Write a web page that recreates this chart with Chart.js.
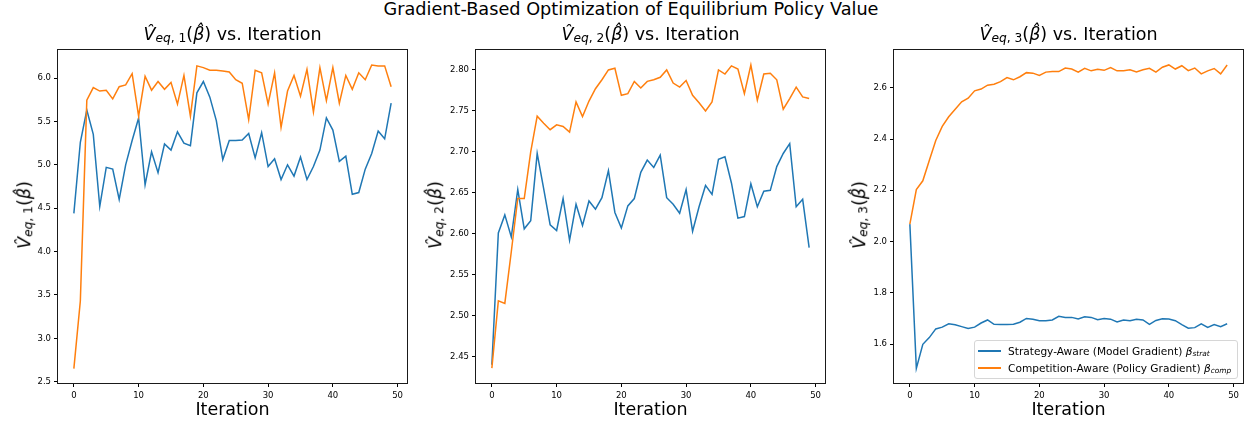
<!DOCTYPE html>
<html>
<head>
<meta charset="utf-8">
<script src="https://cdn.jsdelivr.net/npm/chart.js@4.4.0/dist/chart.umd.min.js"></script>
<style>
body { margin: 0; background: #fff; }
#fig { position: relative; width: 1248px; height: 421px; overflow: hidden; font-family: 'DejaVu Sans'; color: #000; }
canvas { position: absolute; }
.txt { position: absolute; white-space: nowrap; font-size: 17.5px; line-height: 17.5px; }
.m { font-style: italic; }
sub { font-size: 0.7em; line-height: 0; vertical-align: -0.2em; }
#legend { position: absolute; left: 974px; top: 340px; width: 264px; height: 39px; box-sizing: border-box;
  border: 1px solid #d6d6d6; border-radius: 3px; background: rgba(255,255,255,0.8); }
.lrow { position: absolute; left: 33px; font-size: 10.6px; line-height: 10.6px; white-space: nowrap; }
.lline { position: absolute; left: 3px; width: 23px; height: 1.5px; }
</style>
</head>
<body>
<div id="fig">
  <div class="txt" style="left:631px; top:1.2px; font-size:17.7px; transform:translateX(-50%);">Gradient-Based Optimization of Equilibrium Policy Value</div>

  <canvas id="c1"></canvas>
  <canvas id="c2"></canvas>
  <canvas id="c3"></canvas>

  <div class="txt" style="left:232.5px; top:25.7px; transform:translateX(-50%);"><span class="m">V&#770;</span><sub><span class="m">eq</span>, 1</sub>(<span class="m">&#946;&#770;</span>) vs. Iteration</div>
  <div class="txt" style="left:650.5px; top:25.7px; transform:translateX(-50%);"><span class="m">V&#770;</span><sub><span class="m">eq</span>, 2</sub>(<span class="m">&#946;&#770;</span>) vs. Iteration</div>
  <div class="txt" style="left:1068.5px; top:25.7px; transform:translateX(-50%);"><span class="m">V&#770;</span><sub><span class="m">eq</span>, 3</sub>(<span class="m">&#946;&#770;</span>) vs. Iteration</div>

  <div class="txt" style="left:24.7px; top:215px; transform:translate(-50%,-50%) rotate(-90deg);"><span class="m">V&#770;</span><sub><span class="m">eq</span>, 1</sub>(<span class="m">&#946;&#770;</span>)</div>
  <div class="txt" style="left:436px; top:215px; transform:translate(-50%,-50%) rotate(-90deg);"><span class="m">V&#770;</span><sub><span class="m">eq</span>, 2</sub>(<span class="m">&#946;&#770;</span>)</div>
  <div class="txt" style="left:860px; top:215px; transform:translate(-50%,-50%) rotate(-90deg);"><span class="m">V&#770;</span><sub><span class="m">eq</span>, 3</sub>(<span class="m">&#946;&#770;</span>)</div>

  <div class="txt" style="left:232.5px; top:400.5px; transform:translateX(-50%);">Iteration</div>
  <div class="txt" style="left:650.5px; top:400.5px; transform:translateX(-50%);">Iteration</div>
  <div class="txt" style="left:1068.5px; top:400.5px; transform:translateX(-50%);">Iteration</div>

  <div id="legend"></div>
</div>

<script>
var iterations = [0, 1, 2, 3, 4, 5, 6, 7, 8, 9, 10, 11, 12, 13, 14, 15, 16, 17, 18, 19,
  20, 21, 22, 23, 24, 25, 26, 27, 28, 29, 30, 31, 32, 33, 34, 35, 36, 37, 38, 39,
  40, 41, 42, 43, 44, 45, 46, 47, 48, 49];

// panel 1
var p1Strat = [4.44, 5.26, 5.63, 5.35, 4.52, 4.97, 4.95, 4.60, 5.00, 5.28,
  5.54, 4.77, 5.15, 4.91, 5.24, 5.17, 5.38, 5.25, 5.22, 5.83,
  5.96, 5.78, 5.51, 5.06, 5.28, 5.28, 5.285, 5.36, 5.08, 5.37,
  4.98, 5.07, 4.83, 5.00, 4.87, 5.09, 4.83, 4.98, 5.17, 5.54,
  5.40, 5.04, 5.10, 4.66, 4.68, 4.95, 5.13, 5.39, 5.30, 5.71];
var p1Comp = [2.65, 3.43, 5.745, 5.89, 5.85, 5.86, 5.76, 5.90, 5.92, 6.05,
  5.56, 6.02, 5.86, 5.96, 5.87, 5.95, 5.70, 6.03, 5.56, 6.14,
  6.12, 6.09, 6.09, 6.08, 6.07, 5.98, 5.94, 5.52, 6.09, 6.06,
  5.70, 6.06, 5.43, 5.85, 6.03, 5.79, 6.10, 5.61, 6.12, 5.74,
  6.12, 5.71, 6.03, 5.87, 6.06, 5.98, 6.15, 6.14, 6.14, 5.90];

// panel 2
var p2Strat = [2.440, 2.601, 2.623, 2.596, 2.654, 2.606, 2.616, 2.698, 2.655, 2.611,
  2.604, 2.643, 2.592, 2.636, 2.610, 2.640, 2.630, 2.644, 2.677, 2.626,
  2.607, 2.634, 2.643, 2.675, 2.690, 2.681, 2.696, 2.644, 2.636, 2.625,
  2.654, 2.603, 2.633, 2.659, 2.648, 2.691, 2.694, 2.662, 2.619, 2.621,
  2.661, 2.633, 2.652, 2.653, 2.682, 2.698, 2.710, 2.633, 2.642, 2.583];
var p2Comp = [2.436, 2.518, 2.515, 2.578, 2.643, 2.643, 2.700, 2.7435, 2.735, 2.727,
  2.733, 2.731, 2.724, 2.761, 2.743, 2.762, 2.777, 2.788, 2.800, 2.802,
  2.769, 2.771, 2.786, 2.778, 2.786, 2.788, 2.791, 2.800, 2.784, 2.779,
  2.787, 2.769, 2.760, 2.750, 2.761, 2.800, 2.795, 2.805, 2.801, 2.771,
  2.806, 2.763, 2.795, 2.796, 2.788, 2.752, 2.765, 2.779, 2.767, 2.765];

// panel 3
var p3Strat = [2.068, 1.505, 1.599, 1.625, 1.659, 1.666, 1.679, 1.675, 1.668, 1.661,
  1.666, 1.682, 1.694, 1.677, 1.676, 1.676, 1.677, 1.685, 1.700, 1.697,
  1.691, 1.691, 1.694, 1.708, 1.704, 1.704, 1.698, 1.706, 1.704, 1.695,
  1.700, 1.697, 1.686, 1.694, 1.691, 1.697, 1.694, 1.677, 1.692, 1.699,
  1.698, 1.691, 1.676, 1.662, 1.664, 1.679, 1.665, 1.676, 1.668, 1.679];
var p3Comp = [2.068, 2.203, 2.237, 2.316, 2.394, 2.449, 2.487, 2.516, 2.545, 2.559,
  2.588, 2.595, 2.610, 2.614, 2.624, 2.640, 2.631, 2.643, 2.659, 2.657,
  2.648, 2.661, 2.663, 2.663, 2.677, 2.673, 2.661, 2.676, 2.666, 2.672,
  2.668, 2.679, 2.666, 2.666, 2.670, 2.662, 2.670, 2.676, 2.661, 2.680,
  2.689, 2.673, 2.686, 2.667, 2.677, 2.654, 2.666, 2.675, 2.654, 2.689];

var xTicks = [0, 10, 20, 30, 40, 50];
var p1YTicks = [2.5, 3.0, 3.5, 4.0, 4.5, 5.0, 5.5, 6.0];
var p2YTicks = [2.45, 2.50, 2.55, 2.60, 2.65, 2.70, 2.75, 2.80];
var p3YTicks = [1.6, 1.8, 2.0, 2.2, 2.4, 2.6];

var stratLabel = 'Strategy-Aware (Model Gradient) ';
var compLabel = 'Competition-Aware (Policy Gradient) ';
var stratColor = '#1f77b4';
var compColor = '#ff7f0e';

// draws the box round the plot area, like the matplotlib spines
var framePlugin = {
    id: 'frame',
    afterDraw: function(chart) {
        var a = chart.chartArea;
        var ctx = chart.ctx;
        ctx.save();
        ctx.strokeStyle = '#1a1a1a';
        ctx.lineWidth = 1;
        ctx.strokeRect(Math.round(a.left) - 0.5, Math.round(a.top) - 0.5,
            Math.round(a.right - a.left) + 1, Math.round(a.bottom - a.top) + 1);
        ctx.restore();
    }
};

function pts(arr) {
    return iterations.map(function(it, i) { return { x: it, y: arr[i] }; });
}

function makePanel(id, left, strat, comp, yMin, yMax, yTicks, dec) {
    var W = 349, H = 336;
    var cv = document.getElementById(id);
    cv.width = 50 + W + 8;
    cv.height = 5 + H + 22;
    cv.style.left = (left - 50) + 'px';
    cv.style.top = '42px';

    var tickFont = { family: 'DejaVu Sans', size: 8.5 };
    new Chart(cv.getContext('2d'), {
        type: 'line',
        data: {
            datasets: [{
                label: stratLabel,
                data: pts(strat),
                borderColor: stratColor,
                borderWidth: 1.5,
                pointRadius: 0,
                fill: false,
                tension: 0,
                order: 1
            }, {
                label: compLabel,
                data: pts(comp),
                borderColor: compColor,
                borderWidth: 1.5,
                pointRadius: 0,
                fill: false,
                tension: 0,
                order: 0
            }]
        },
        options: {
            responsive: false,
            animation: false,
            devicePixelRatio: 1,
            layout: { padding: { left: 0, top: 5, right: 8, bottom: 0 } },
            plugins: { legend: { display: false }, tooltip: { enabled: false } },
            scales: {
                x: {
                    type: 'linear',
                    min: -2.45,
                    max: 51.45,
                    afterFit: function(s) { s.height = 22; },
                    afterBuildTicks: function(s) { s.ticks = xTicks.map(function(v) { return { value: v }; }); },
                    grid: { drawOnChartArea: false, drawTicks: true, tickLength: 4, color: '#000', lineWidth: 1 },
                    border: { display: false },
                    ticks: { font: tickFont, color: '#000', padding: 4, maxRotation: 0,
                        callback: function(v) { return String(v); } }
                },
                y: {
                    type: 'linear',
                    min: yMin,
                    max: yMax,
                    afterFit: function(s) { s.width = 50; },
                    afterBuildTicks: function(s) { s.ticks = yTicks.map(function(v) { return { value: v }; }); },
                    grid: { drawOnChartArea: false, drawTicks: true, tickLength: 4, color: '#000', lineWidth: 1 },
                    border: { display: false },
                    ticks: { font: tickFont, color: '#000', padding: 3,
                        callback: function(v) { return Number(v).toFixed(dec); } }
                }
            }
        },
        plugins: [framePlugin]
    });
}

makePanel('c1', 58, p1Strat, p1Comp, 2.485, 6.322, p1YTicks, 1);
makePanel('c2', 476, p2Strat, p2Comp, 2.4178, 2.8242, p2YTicks, 2);
makePanel('c3', 894, p3Strat, p3Comp, 1.448, 2.7469, p3YTicks, 1);

// legend for the third panel, built from the same labels and colours
var legendItems = [
    { text: stratLabel, sub: 'strat', color: stratColor, top: 5, line: 9.3 },
    { text: compLabel, sub: 'comp', color: compColor, top: 21.7, line: 26 }
];
var lg = document.getElementById('legend');
legendItems.forEach(function(it) {
    var ln = document.createElement('div');
    ln.className = 'lline';
    ln.style.top = it.line + 'px';
    ln.style.background = it.color;
    lg.appendChild(ln);
    var row = document.createElement('div');
    row.className = 'lrow';
    row.style.top = it.top + 'px';
    row.innerHTML = it.text + '<span class="m">&#946;</span><sub class="m">' + it.sub + '</sub>';
    lg.appendChild(row);
});
</script>
</body>
</html>
